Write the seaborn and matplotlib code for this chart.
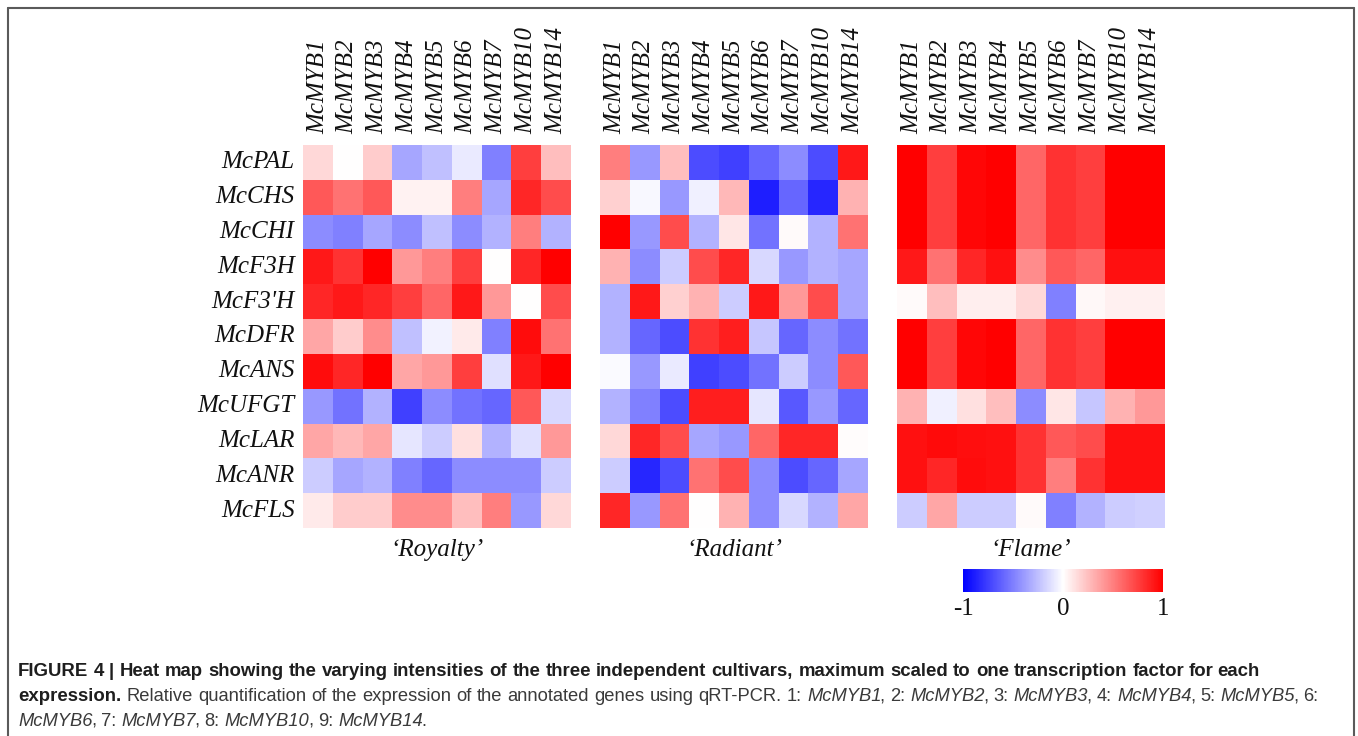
import re
import numpy as np
import pandas as pd
import matplotlib
matplotlib.use("Agg")
import matplotlib.pyplot as plt
import seaborn as sns
from matplotlib.lines import Line2D

# ---------------- data ----------------
genes = ["McPAL", "McCHS", "McCHI", "McF3H", "McF3'H", "McDFR", "McANS",
         "McUFGT", "McLAR", "McANR", "McFLS"]
tfs = ["McMYB1", "McMYB2", "McMYB3", "McMYB4", "McMYB5", "McMYB6",
       "McMYB7", "McMYB10", "McMYB14"]
cultivars = ["\u2018Royalty\u2019", "\u2018Radiant\u2019", "\u2018Flame\u2019"]

royalty = [
    [0.15, 0.00, 0.20, -0.35, -0.25, -0.08, -0.50, 0.75, 0.25],
    [0.65, 0.55, 0.65, 0.05, 0.05, 0.50, -0.35, 0.85, 0.70],
    [-0.45, -0.50, -0.35, -0.45, -0.25, -0.45, -0.30, 0.50, -0.30],
    [0.90, 0.80, 1.00, 0.40, 0.50, 0.75, 0.00, 0.85, 1.00],
    [0.85, 0.90, 0.85, 0.75, 0.60, 0.90, 0.40, 0.00, 0.70],
    [0.35, 0.20, 0.45, -0.25, -0.05, 0.08, -0.50, 0.95, 0.55],
    [0.95, 0.85, 1.00, 0.35, 0.40, 0.75, -0.12, 0.90, 1.00],
    [-0.40, -0.55, -0.30, -0.75, -0.45, -0.55, -0.60, 0.65, -0.15],
    [0.35, 0.28, 0.35, -0.10, -0.20, 0.12, -0.30, -0.12, 0.40],
    [-0.20, -0.35, -0.30, -0.50, -0.60, -0.45, -0.45, -0.45, -0.20],
    [0.08, 0.20, 0.20, 0.45, 0.45, 0.25, 0.50, -0.40, 0.15],
]
radiant = [
    [0.50, -0.40, 0.25, -0.70, -0.75, -0.60, -0.45, -0.70, 0.90],
    [0.18, -0.03, -0.40, -0.06, 0.28, -0.88, -0.60, -0.85, 0.30],
    [1.00, -0.40, 0.70, -0.30, 0.10, -0.55, 0.02, -0.30, 0.55],
    [0.30, -0.45, -0.20, 0.70, 0.85, -0.15, -0.40, -0.30, -0.35],
    [-0.30, 0.90, 0.18, 0.30, -0.20, 0.90, 0.40, 0.70, -0.35],
    [-0.30, -0.60, -0.70, 0.80, 0.88, -0.22, -0.60, -0.45, -0.55],
    [-0.02, -0.40, -0.08, -0.75, -0.70, -0.55, -0.20, -0.45, 0.65],
    [-0.30, -0.50, -0.70, 0.88, 0.88, -0.10, -0.65, -0.40, -0.60],
    [0.15, 0.85, 0.70, -0.35, -0.40, 0.60, 0.85, 0.85, 0.01],
    [-0.20, -0.85, -0.70, 0.55, 0.70, -0.45, -0.70, -0.60, -0.35],
    [0.85, -0.40, 0.55, 0.00, 0.30, -0.45, -0.15, -0.30, 0.35],
]
flame = [
    [1.00, 0.75, 0.97, 1.00, 0.60, 0.80, 0.75, 1.00, 1.00],
    [1.00, 0.75, 0.97, 1.00, 0.60, 0.80, 0.75, 1.00, 1.00],
    [1.00, 0.75, 0.97, 1.00, 0.60, 0.80, 0.75, 1.00, 1.00],
    [0.90, 0.55, 0.85, 0.93, 0.45, 0.65, 0.60, 0.93, 0.93],
    [0.02, 0.25, 0.07, 0.07, 0.15, -0.50, 0.03, 0.06, 0.06],
    [1.00, 0.75, 0.97, 1.00, 0.60, 0.80, 0.75, 1.00, 1.00],
    [1.00, 0.75, 0.97, 1.00, 0.60, 0.80, 0.75, 1.00, 1.00],
    [0.30, -0.06, 0.12, 0.25, -0.45, 0.10, -0.22, 0.30, 0.40],
    [0.93, 0.96, 0.94, 0.93, 0.80, 0.65, 0.70, 0.93, 0.93],
    [0.93, 0.85, 0.95, 0.93, 0.80, 0.50, 0.80, 0.93, 0.93],
    [-0.20, 0.35, -0.20, -0.20, 0.02, -0.50, -0.30, -0.20, -0.18],
]
cbar_ticks = [-1, 0, 1]
cbar_ticklabels = ["-1", "0", "1"]

caption_lines = [
    [("FIGURE 4 | Heat map showing the varying intensities of the three independent "
      "cultivars, maximum scaled to one transcription factor for each", "b")],
    [("expression.", "b"),
     (" Relative quantification of the expression of the annotated genes using qRT-PCR. 1: ", "r"),
     ("McMYB1", "i"), (", 2: ", "r"), ("McMYB2", "i"), (", 3: ", "r"), ("McMYB3", "i"),
     (", 4: ", "r"), ("McMYB4", "i"), (", 5: ", "r"), ("McMYB5", "i"), (", 6:", "r")],
    [("McMYB6", "i"), (", 7: ", "r"), ("McMYB7", "i"), (", 8: ", "r"), ("McMYB10", "i"),
     (", 9: ", "r"), ("McMYB14", "i"), (".", "r")],
]

# ---------------- figure ----------------
W, H = 1358, 736
sns.set_theme(style="white")
plt.rcParams["font.family"] = ["Liberation Serif", "DejaVu Serif"]
plt.rcParams["axes.unicode_minus"] = False

fig = plt.figure(figsize=(W / 100, H / 100), dpi=100)
fig.patch.set_facecolor("white")

lefts = [303, 600, 897]
hm_top, hm_bot, hm_w = 145, 528, 268
LBL = 18
mappable = None
for i, (data, name) in enumerate(zip([royalty, radiant, flame], cultivars)):
    ax = fig.add_axes([lefts[i] / W, 1 - hm_bot / H, hm_w / W, (hm_bot - hm_top) / H])
    df = pd.DataFrame(data, index=genes, columns=tfs)
    sns.heatmap(df, ax=ax, cmap="bwr", vmin=-1, vmax=1, cbar=False,
                xticklabels=True, yticklabels=True)
    mappable = ax.collections[0]
    ax.xaxis.tick_top()
    ax.set_xticklabels(tfs, rotation=90, fontstyle="italic", fontsize=LBL, color="#111111")
    if i == 0:
        ax.set_yticklabels(genes, rotation=0, fontstyle="italic", fontsize=LBL, color="#111111")
    else:
        ax.set_yticks([])
    ax.set_ylabel("")
    ax.tick_params(axis="x", length=0, pad=8)
    ax.tick_params(axis="y", length=0, pad=6)
    ax.xaxis.set_label_position("bottom")
    ax.set_xlabel(name, fontsize=LBL, fontstyle="italic", color="#111111", labelpad=8)

cax = fig.add_axes([963 / W, 1 - 592 / H, 200 / W, 23 / H])
cb = fig.colorbar(mappable, cax=cax, orientation="horizontal", ticks=cbar_ticks)
cb.outline.set_visible(False)
cax.set_xticklabels(cbar_ticklabels)
cax.tick_params(length=0, labelsize=LBL, pad=4, colors="#111111")

# ---------------- border ----------------
bc = "#5a5a5a"
fig.add_artist(Line2D([8 / W, 8 / W], [0, 1 - 8 / H], color=bc, lw=1.5, transform=fig.transFigure))
fig.add_artist(Line2D([8 / W, 1354 / W], [1 - 8 / H, 1 - 8 / H], color=bc, lw=1.5, transform=fig.transFigure))
fig.add_artist(Line2D([1354 / W, 1354 / W], [0, 1 - 8 / H], color=bc, lw=1.5, transform=fig.transFigure))

# ---------------- caption ----------------
renderer = fig.canvas.get_renderer()
style_map = {"b": dict(fontweight="bold", fontstyle="normal", color="#1e1e1e"),
             "r": dict(fontweight="normal", fontstyle="normal", color="#3a3a3a"),
             "i": dict(fontweight="normal", fontstyle="italic", color="#3a3a3a")}
cap_family = ["Liberation Sans", "DejaVu Sans"]

trial = fig.text(0, 0, caption_lines[0][0][0], fontsize=12, fontweight="bold", family=cap_family)
tw = trial.get_window_extent(renderer).width
trial.remove()
cap_size = 12 * 1247 / tw
size_map = {"b": cap_size, "r": cap_size * 0.985, "i": cap_size * 0.985}


def advance(piece, st):
    kw = dict(fontsize=size_map[st], family=cap_family, **style_map[st])
    a = fig.text(0, 0, piece + ".", **kw)
    b = fig.text(0, 0, ".", **kw)
    w = a.get_window_extent(renderer).width - b.get_window_extent(renderer).width
    a.remove()
    b.remove()
    if st == "i":
        w -= 0.09 * size_map[st] * 100 / 72
    return w


baselines = [676, 701, 726]
for line, yb in zip(caption_lines, baselines):
    x = 18.0
    for text, st in line:
        space_px = 0.278 * size_map[st] * 100 / 72
        for piece in re.split(r"( )", text):
            if piece == " ":
                x += space_px
            elif piece:
                fig.text(x / W, 1 - yb / H, piece, fontsize=size_map[st], family=cap_family,
                         ha="left", va="baseline", **style_map[st])
                x += advance(piece, st)

fig.savefig("out.png", dpi=100, facecolor="white")
